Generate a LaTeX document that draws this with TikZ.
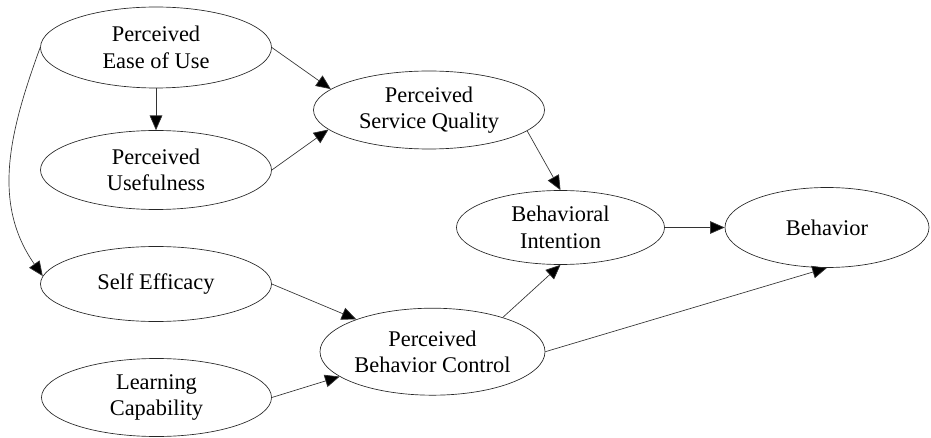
\documentclass[tikz,border=0pt]{standalone}
\usepackage{fontspec}
\setmainfont{Liberation Serif}
\usetikzlibrary{shapes.geometric,arrows.meta}
\begin{document}
\begin{tikzpicture}[x=0.75pt,y=-0.75pt,
  construct/.style={ellipse,draw=black!85,line width=0.5pt,inner sep=0pt,
    align=center,font=\fontsize{16.8pt}{20pt}\selectfont},
  link/.style={draw=black!80,line width=0.5pt,
    -{Triangle[length=11pt,width=9.5pt,fill=black]}}]
\useasboundingbox (0,0) rectangle (931,438);

% constructs
\node[construct,minimum width=173.25pt,minimum height=60.75pt] (ease) at (156,47.5) {Perceived\\Ease of Use};
\node[construct,minimum width=173.25pt,minimum height=59.25pt] (useful) at (156,170) {Perceived\\Usefulness};
\node[construct,minimum width=173.25pt,minimum height=58.5pt] (psq) at (429,110) {Perceived\\Service Quality};
\node[construct,minimum width=156pt,minimum height=55.5pt] (bi) at (560.5,227.5) {Behavioral\\Intention};
\node[construct,minimum width=153pt,minimum height=60pt] (beh) at (827,227.5) {Behavior};
\node[construct,minimum width=173.25pt,minimum height=56.25pt] (se) at (156,284) {Self Efficacy};
\node[construct,minimum width=168.75pt,minimum height=65.25pt] (pbc) at (432.5,351.7) {Perceived\\Behavior Control};
\node[construct,minimum width=172.5pt,minimum height=58.5pt] (lc) at (156.5,397.5) {Learning\\Capability};

% paths
\draw[link] (ease.south) -- (useful.north);
\draw[link] (ease.east) -- (psq.168);
\draw[link] (useful.east) -- (psq.191);
\draw[link] (psq.-12) -- (bi.north);
\draw[link] (bi.east) -- (beh.west);
\draw[link] (pbc.26) -- (bi.south);
\draw[link] (pbc.east) -- (beh.south);
\draw[link] (se.east) -- (pbc.157);
\draw[link] (lc.east) -- (pbc.195);
\draw[link] (ease.west) to[out=-110,in=125,looseness=1.0] (se.176);
\end{tikzpicture}
\end{document}
